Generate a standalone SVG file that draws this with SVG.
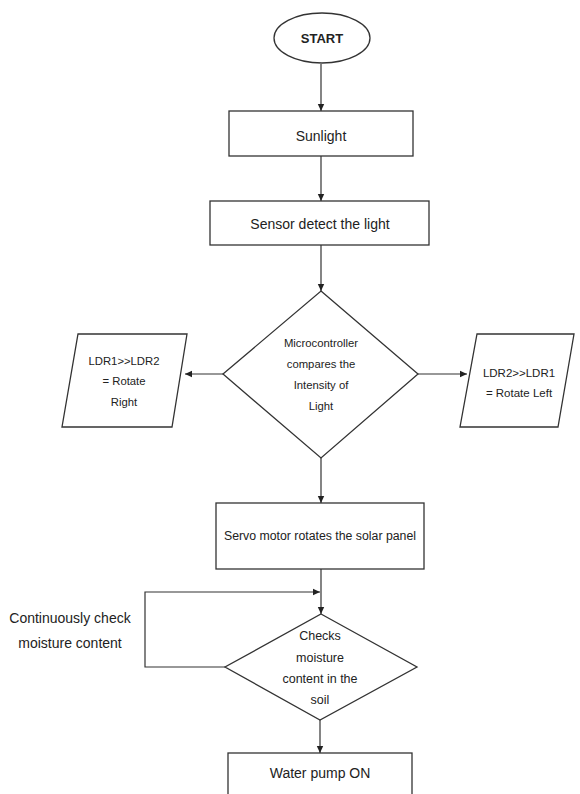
<svg xmlns="http://www.w3.org/2000/svg" width="580" height="794" viewBox="0 0 580 794">
<style>
.shape{fill:#fff;stroke:#333;stroke-width:1.3}
.conn{fill:none;stroke:#333;stroke-width:1.2}
text{font-family:"Liberation Sans",Arial,sans-serif;fill:#222;text-anchor:middle}
</style>
<defs>
<marker id="arr" markerUnits="userSpaceOnUse" markerWidth="8" markerHeight="8" refX="7" refY="4" orient="auto">
<path d="M0,0.8 L7,4 L0,7.2 Z" fill="#222"/>
</marker>
</defs>
<rect width="580" height="794" fill="#fff"/>
<g id="connectors">
<line class="conn" x1="321" y1="64" x2="321" y2="111" marker-end="url(#arr)"/>
<line class="conn" x1="321" y1="156" x2="321" y2="201" marker-end="url(#arr)"/>
<line class="conn" x1="321" y1="245" x2="321" y2="291" marker-end="url(#arr)"/>
<line class="conn" x1="223" y1="374" x2="185" y2="374" marker-end="url(#arr)"/>
<line class="conn" x1="418" y1="374" x2="467" y2="374" marker-end="url(#arr)"/>
<line class="conn" x1="321" y1="458" x2="321" y2="503" marker-end="url(#arr)"/>
<line class="conn" x1="321" y1="569" x2="321" y2="614" marker-end="url(#arr)"/>
<path class="conn" d="M225,667 H145 V592 H320" marker-end="url(#arr)"/>
<line class="conn" x1="320" y1="720" x2="320" y2="753" marker-end="url(#arr)"/>
</g>
<g id="start">
<ellipse class="shape" cx="322" cy="38" rx="48" ry="25"/>
<text x="322" y="43" font-size="13" font-weight="bold">START</text>
</g>
<g id="sunlight">
<rect class="shape" x="229" y="111" width="184" height="45"/>
<text x="321" y="141" font-size="14">Sunlight</text>
</g>
<g id="sensor">
<rect class="shape" x="210" y="201" width="219" height="44"/>
<text x="320" y="229" font-size="14">Sensor detect the light</text>
</g>
<g id="compare">
<polygon class="shape" points="321,291 418,374 321,458 223,374"/>
<text font-size="11.3"><tspan x="321" y="347">Microcontroller</tspan><tspan x="321" y="368">compares the</tspan><tspan x="321" y="389">Intensity of</tspan><tspan x="321" y="410">Light</tspan></text>
</g>
<g id="rotate-right">
<polygon class="shape" points="78,334 187,334 172,427 62,427"/>
<text font-size="11.3"><tspan x="124" y="365">LDR1&gt;&gt;LDR2</tspan><tspan x="124" y="385">= Rotate</tspan><tspan x="124" y="406">Right</tspan></text>
</g>
<g id="rotate-left">
<polygon class="shape" points="477,334 574,334 558,427 460,427"/>
<text font-size="11.5"><tspan x="519" y="377">LDR2&gt;&gt;LDR1</tspan><tspan x="519" y="397">= Rotate Left</tspan></text>
</g>
<g id="servo">
<rect class="shape" x="216" y="503" width="208" height="66"/>
<text x="320" y="540" font-size="12.3">Servo motor rotates the solar panel</text>
</g>
<g id="moisture">
<polygon class="shape" points="321,614 417,667 320,720 225,667"/>
<text font-size="12.5"><tspan x="320" y="640">Checks</tspan><tspan x="320" y="662">moisture</tspan><tspan x="320" y="683">content in the</tspan><tspan x="320" y="704">soil</tspan></text>
</g>
<g id="loop-label">
<text font-size="14"><tspan x="70" y="623">Continuously check</tspan><tspan x="70" y="648">moisture content</tspan></text>
</g>
<g id="pump">
<rect class="shape" x="228" y="753" width="184" height="50"/>
<text x="320" y="778" font-size="14">Water pump ON</text>
</g>
</svg>
